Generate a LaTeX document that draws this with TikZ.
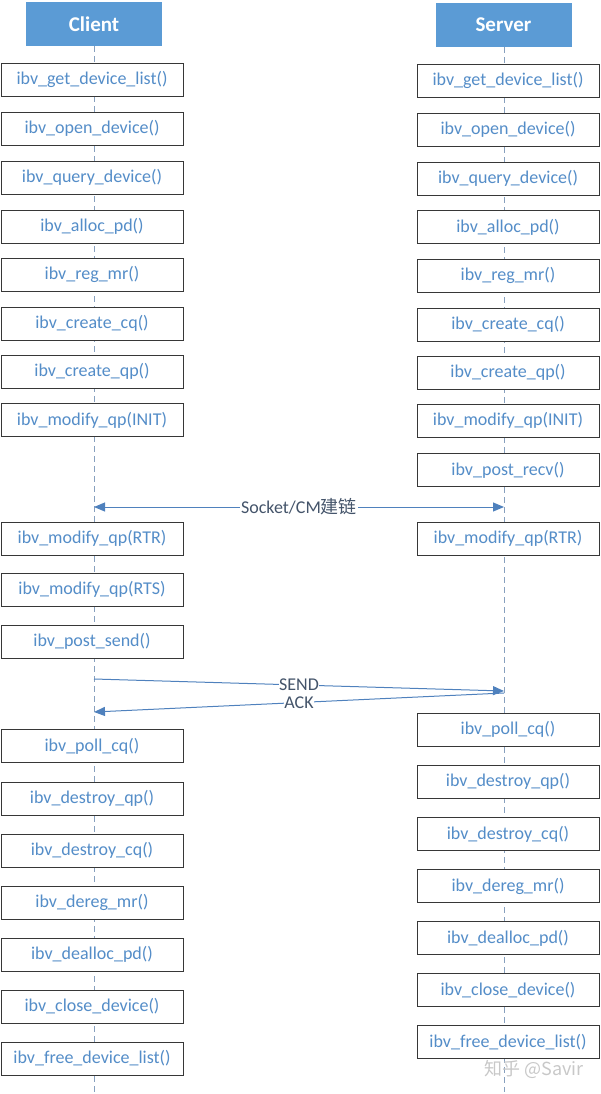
\documentclass[tikz,border=0pt]{standalone}
\usepackage{fontspec}
\setmainfont{Carlito}
\newfontfamily\cjkfont{Noto Sans CJK SC}
\usetikzlibrary{arrows.meta}
\definecolor{hdrblue}{RGB}{91,155,213}
\definecolor{txtblue}{RGB}{84,141,200}
\definecolor{lblcol}{RGB}{68,84,106}
\definecolor{arrcol}{RGB}{79,129,189}
\definecolor{lifecol}{RGB}{135,160,190}
\definecolor{boxline}{RGB}{55,55,55}
\definecolor{wmark}{RGB}{200,200,200}
\tikzset{
  hdr/.style={fill=hdrblue, draw=none, minimum width=136pt, minimum height=44pt, inner sep=0pt, text=white, font=\fontsize{21}{24}\selectfont\bfseries},
  fbox/.style={draw=boxline, line width=0.9pt, fill=white, minimum width=182pt, minimum height=33pt, inner sep=0pt, text=txtblue, font=\fontsize{18}{22}\selectfont},
  lifeline/.style={draw=lifecol, line width=1pt, dash pattern=on 6pt off 4pt},
  msg/.style={draw=arrcol, line width=1pt, -{Triangle[length=11pt,width=9pt]}},
  msgboth/.style={draw=arrcol, line width=1pt, {Triangle[length=11pt,width=9pt]}-{Triangle[length=11pt,width=9pt]}},
  mlabel/.style={fill=white, inner sep=1pt, text=lblcol, font=\fontsize{18}{22}\selectfont}
}
\begin{document}
\begin{tikzpicture}[x=1pt,y=-1pt]
\useasboundingbox (0,0) rectangle (600,1094);
% headers
\node[hdr] (client) at (94,24) {Client};
\node[hdr] (server) at (503.5,25) {Server};
% lifeline ends
\coordinate (cend) at (94,1092);
\coordinate (send) at (504,1092);
\draw[lifeline] (client.south -| cend) -- (cend);
\draw[lifeline] (server.south -| send) -- (send);
% client boxes
\node[fbox] (c1) at (92,79.5) {ibv\_get\_device\_list()};
\node[fbox] (c2) at (92,128.5) {ibv\_open\_device()};
\node[fbox] (c3) at (92,177.5) {ibv\_query\_device()};
\node[fbox] (c4) at (92,226.5) {ibv\_alloc\_pd()};
\node[fbox] (c5) at (92,274.5) {ibv\_reg\_mr()};
\node[fbox] (c6) at (92,323.5) {ibv\_create\_cq()};
\node[fbox] (c7) at (92,371.5) {ibv\_create\_qp()};
\node[fbox] (c8) at (92,420) {ibv\_modify\_qp(INIT)};
\node[fbox] (c9) at (92,538.5) {ibv\_modify\_qp(RTR)};
\node[fbox] (c10) at (92,589.5) {ibv\_modify\_qp(RTS)};
\node[fbox] (c11) at (92,641.5) {ibv\_post\_send()};
\node[fbox] (c12) at (92,746) {ibv\_poll\_cq()};
\node[fbox] (c13) at (92,798.5) {ibv\_destroy\_qp()};
\node[fbox] (c14) at (92,850.5) {ibv\_destroy\_cq()};
\node[fbox] (c15) at (92,902.5) {ibv\_dereg\_mr()};
\node[fbox] (c16) at (92,954.5) {ibv\_dealloc\_pd()};
\node[fbox] (c17) at (92,1006.5) {ibv\_close\_device()};
\node[fbox] (c18) at (92,1058.5) {ibv\_free\_device\_list()};
% server boxes
\node[fbox] (s1) at (508,80.5) {ibv\_get\_device\_list()};
\node[fbox] (s2) at (508,129.5) {ibv\_open\_device()};
\node[fbox] (s3) at (508,178.5) {ibv\_query\_device()};
\node[fbox] (s4) at (508,227) {ibv\_alloc\_pd()};
\node[fbox] (s5) at (508,275.5) {ibv\_reg\_mr()};
\node[fbox] (s6) at (508,324.5) {ibv\_create\_cq()};
\node[fbox] (s7) at (508,372.5) {ibv\_create\_qp()};
\node[fbox] (s8) at (508,420.5) {ibv\_modify\_qp(INIT)};
\node[fbox] (s9) at (508,470) {ibv\_post\_recv()};
\node[fbox] (s10) at (508,538.5) {ibv\_modify\_qp(RTR)};
\node[fbox] (s11) at (508,729.5) {ibv\_poll\_cq()};
\node[fbox] (s12) at (508,781.5) {ibv\_destroy\_qp()};
\node[fbox] (s13) at (508,834) {ibv\_destroy\_cq()};
\node[fbox] (s14) at (508,886) {ibv\_dereg\_mr()};
\node[fbox] (s15) at (508,938) {ibv\_dealloc\_pd()};
\node[fbox] (s16) at (508,990) {ibv\_close\_device()};
\node[fbox] (s17) at (508,1042) {ibv\_free\_device\_list()};
% message coordinates
\coordinate (cmA) at (94,507);
\coordinate (cmB) at (504,507);
\coordinate (sendA) at (94,679);
\coordinate (sendB) at (504,691);
\coordinate (ackA) at (504,693);
\coordinate (ackB) at (94,712);
\draw[msgboth] (cmA) -- node[mlabel] {Socket/CM{\cjkfont 建链}} (cmB);
\draw[msg] (sendA) -- node[mlabel, inner sep=0pt] {SEND} (sendB);
\draw[msg] (ackA) -- node[mlabel, inner sep=0pt] {ACK} (ackB);
% watermark
\node[text=wmark, font=\cjkfont\fontsize{18}{20}\selectfont, inner sep=0pt] (wm) at (534,1069) {知乎 @Savir};
\end{tikzpicture}
\end{document}
